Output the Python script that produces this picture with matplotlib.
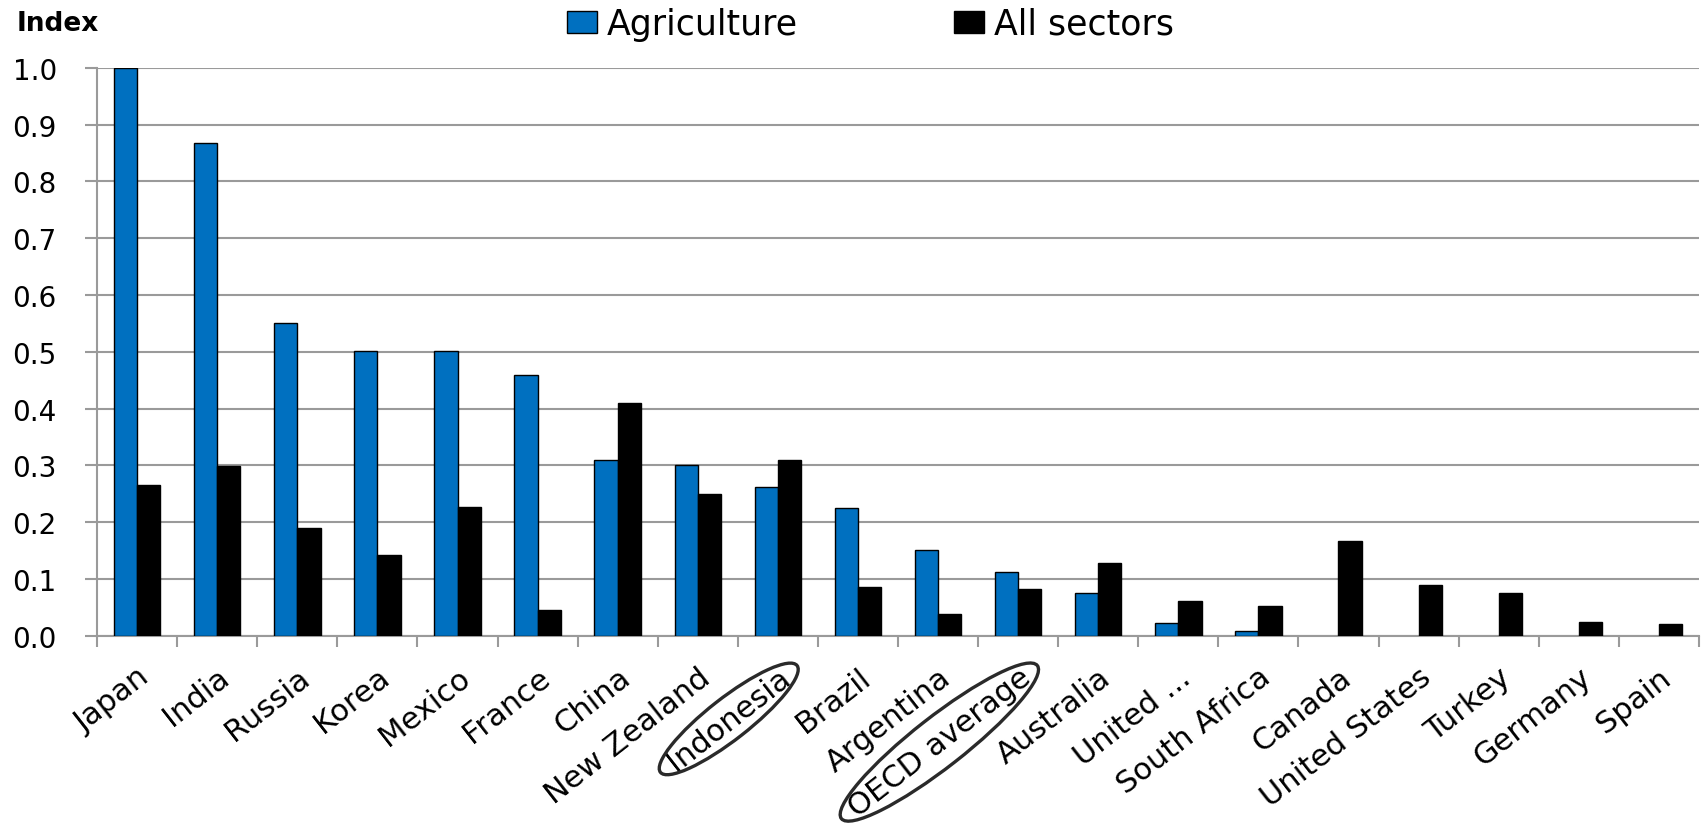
import matplotlib
matplotlib.use("Agg")
import matplotlib.pyplot as plt
from matplotlib.patches import Ellipse
from matplotlib.transforms import IdentityTransform
import numpy as np

countries = ["Japan", "India", "Russia", "Korea", "Mexico", "France", "China",
             "New Zealand", "Indonesia", "Brazil", "Argentina", "OECD average",
             "Australia", "United ...", "South Africa", "Canada", "United States",
             "Turkey", "Germany", "Spain"]
agriculture = [1.0, 0.868, 0.551, 0.501, 0.501, 0.459, 0.310, 0.300, 0.262, 0.224,
               0.151, 0.113, 0.076, 0.023, 0.009, 0, 0, 0, 0, 0]
all_sectors = [0.265, 0.298, 0.189, 0.143, 0.226, 0.046, 0.409, 0.250, 0.310, 0.086,
               0.038, 0.082, 0.128, 0.062, 0.053, 0.166, 0.090, 0.076, 0.024, 0.021]
circled = ["Indonesia", "OECD average"]

BLUE = "#0070C0"
GRID = "#9a9a9a"
ROT = 38

plt.rcParams["font.family"] = "DejaVu Sans"

fig = plt.figure(figsize=(17.04, 8.28), dpi=100)
ax = fig.add_axes([0.057, 0.231, 0.940, 0.686])

x = np.arange(len(countries))
w = 0.29
# no outline for empty bars so nothing shows on the axis line
ax.bar(x - w / 2, agriculture, w, color=BLUE, edgecolor="black",
       linewidth=[1.0 if v > 0 else 0 for v in agriculture],
       label="Agriculture", zorder=3)
ax.bar(x + w / 2, all_sectors, w, color="black", edgecolor="black", lw=1.0,
       label="All sectors", zorder=3)

ax.set_xlim(-0.5, len(countries) - 0.5)
ax.set_ylim(0, 1.0)
yt = np.arange(0, 1.01, 0.1)
ax.set_yticks(yt)
ax.set_yticklabels([f"{v:.1f}" for v in yt], fontsize=20)
ax.yaxis.grid(True, color=GRID, lw=1.5, zorder=0)
ax.set_axisbelow(True)

# category ticks sit between the groups
ax.set_xticks(np.arange(-0.5, len(countries), 1.0))
ax.set_xticklabels([])
ax.set_xticks(x, minor=True)
ax.set_xticklabels(countries, minor=True, rotation=ROT, ha="right",
                   rotation_mode="anchor", fontsize=22)
ax.tick_params(axis="x", which="major", length=8, color=GRID, width=1.5)
ax.tick_params(axis="x", which="minor", length=0, pad=19)
ax.tick_params(axis="y", length=9, color=GRID, width=1.5, pad=20)

for s in ["top", "right"]:
    ax.spines[s].set_visible(False)
for s in ["left", "bottom"]:
    ax.spines[s].set_color(GRID)
    ax.spines[s].set_linewidth(1.5)

fig.text(0.010, 0.971, "Index", fontsize=19, fontweight="bold", va="center")

fig.legend(loc="center", bbox_to_anchor=(0.511, 0.970), ncol=2,
           frameon=False, handlelength=0.86, handleheight=0.6,
           columnspacing=4.5, handletextpad=0.29, borderpad=0, fontsize=25)

# hand-drawn style ovals around two labels
fig.canvas.draw()
rend = fig.canvas.get_renderer()
for lbl in ax.get_xticklabels(minor=True):
    if lbl.get_text() in circled:
        bb = lbl.get_window_extent(rend)
        tw, th, _ = rend.get_text_width_height_descent(
            lbl.get_text(), lbl.get_fontproperties(), ismath=False)
        oval = Ellipse(((bb.x0 + bb.x1) / 2, (bb.y0 + bb.y1) / 2),
                       tw + 26, th * 1.8, angle=ROT, fill=False,
                       ec="#2a2a2a", lw=2.4, transform=IdentityTransform())
        fig.add_artist(oval)

fig.savefig("out.png", dpi=100)
